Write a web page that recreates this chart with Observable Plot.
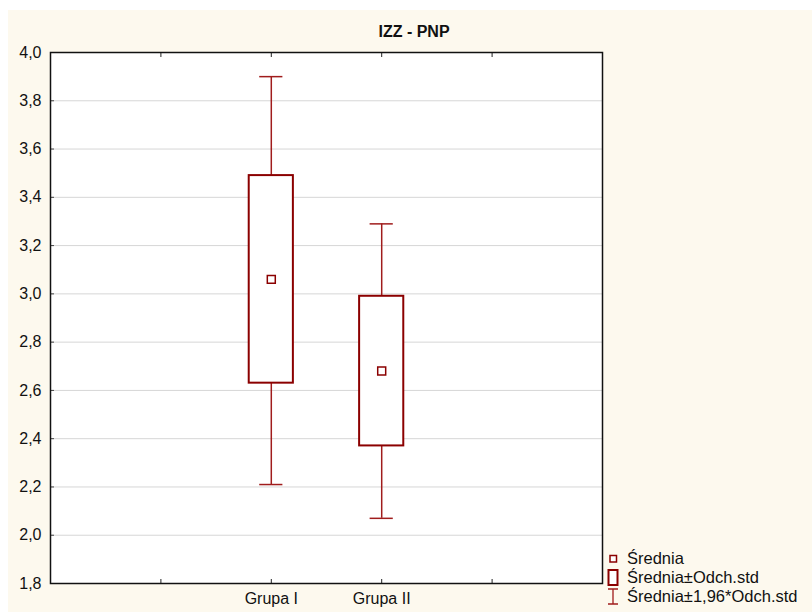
<!DOCTYPE html>
<html>
<head>
<meta charset="utf-8">
<script src="https://cdn.jsdelivr.net/npm/d3@7"></script>
<script src="https://cdn.jsdelivr.net/npm/@observablehq/plot@0.6"></script>
<style>
  body { margin: 0; background: #fff; font-family: "Liberation Sans", Arial, sans-serif; }
  #wrap { position: relative; width: 812px; height: 612px; overflow: hidden; }
  #bg { position: absolute; left: 8px; top: 10px; right: 0; bottom: 0; background: #fdf9ee; }
  #chart { position: absolute; left: 0; top: 0; }
  #title { position: absolute; left: 16px; right: 0; top: 23.5px; line-height: 16px; text-align: center; font-weight: bold; font-size: 16px; color: #111; }
  #legend { position: absolute; left: 607px; top: 549px; font-size: 16.5px; color: #111; }
  #legend div { display: flex; align-items: center; height: 19px; }
  #legend svg { margin-right: 8px; flex: none; }
</style>
</head>
<body>
<div id="wrap">
  <div id="bg"></div>
  <div id="chart"></div>
  <div id="title">IZZ - PNP</div>
  <div id="legend"></div>
</div>
<script>
const groups = ["Grupa I", "Grupa II"];
const groupPos = [2, 3];
const means = [3.06, 2.68];
const boxLow = [2.63, 2.37];
const boxHigh = [3.49, 2.99];
const whiskerLow = [2.21, 2.07];
const whiskerHigh = [3.90, 3.29];
const yTicks = [1.8, 2.0, 2.2, 2.4, 2.6, 2.8, 3.0, 3.2, 3.4, 3.6, 3.8, 4.0];
const xTicks = [1, 2, 3, 4];
const legendLabels = ["Średnia", "Średnia±Odch.std", "Średnia±1,96*Odch.std"];

const data = groups.map((g, i) => ({
  group: g, x: groupPos[i], mean: means[i],
  lo: boxLow[i], hi: boxHigh[i], wlo: whiskerLow[i], whi: whiskerHigh[i]
}));

const boxHalf = 0.2, capHalf = 0.105;
const dark = "#8b0000", whisk = "#a01c1c";
const fmt = d => d.toFixed(1).replace(".", ",");
const xLabel = d => { const i = groupPos.indexOf(d); return i >= 0 ? groups[i] : ""; };

const chart = Plot.plot({
  width: 812, height: 612,
  marginLeft: 50, marginRight: 210, marginTop: 52, marginBottom: 29,
  style: { background: "transparent", fontFamily: "Liberation Sans, Arial, sans-serif", fontSize: "16px", color: "#111" },
  x: { domain: [0, 5] },
  y: { domain: [1.8, 4.0] },
  marks: [
    Plot.frame({ fill: "white", stroke: "none" }),
    Plot.gridY(yTicks.filter(t => t > 1.8 && t < 4.0), { stroke: "#d6d6d6", strokeOpacity: 1, strokeWidth: 1 }),
    Plot.axisY(yTicks, { tickSize: 0, tickPadding: 9, tickFormat: fmt, fontSize: 16, label: null }),
    Plot.axisY(yTicks, { tickSize: -4, tickFormat: () => "", label: null, stroke: "#444" }),
    Plot.axisX(xTicks, { anchor: "bottom", tickSize: 0, tickPadding: 9, tickFormat: xLabel, fontSize: 16, label: null }),
    Plot.axisX(xTicks, { anchor: "bottom", tickSize: -4, tickFormat: () => "", label: null, stroke: "#222" }),
    Plot.axisX(xTicks, { anchor: "top", tickSize: -4, tickFormat: () => "", label: null, stroke: "#222" }),
    Plot.ruleX(data, { x: "x", y1: "hi", y2: "whi", stroke: whisk, strokeWidth: 1.5 }),
    Plot.ruleX(data, { x: "x", y1: "wlo", y2: "lo", stroke: whisk, strokeWidth: 1.5 }),
    Plot.ruleY(data, { y: "whi", x1: d => d.x - capHalf, x2: d => d.x + capHalf, stroke: whisk, strokeWidth: 1.5 }),
    Plot.ruleY(data, { y: "wlo", x1: d => d.x - capHalf, x2: d => d.x + capHalf, stroke: whisk, strokeWidth: 1.5 }),
    Plot.rect(data, { x1: d => d.x - boxHalf, x2: d => d.x + boxHalf, y1: "lo", y2: "hi", fill: "white", stroke: dark, strokeWidth: 2 }),
    Plot.dot(data, { x: "x", y: "mean", symbol: "square", r: 4.5, fill: "white", stroke: dark, strokeWidth: 1.5 }),
    Plot.frame({ stroke: "#111", strokeWidth: 1.5 })
  ]
});
document.getElementById("chart").appendChild(chart);

const icons = [
  `<svg width="12" height="15"><rect x="3" y="4.5" width="6.5" height="6.5" fill="white" stroke="${dark}" stroke-width="1.5"/></svg>`,
  `<svg width="12" height="17"><rect x="1.5" y="1" width="9" height="15" fill="white" stroke="${dark}" stroke-width="2"/></svg>`,
  `<svg width="12" height="17"><path d="M1,1H11M6,1V16M1,16H11" fill="none" stroke="${whisk}" stroke-width="1.3"/></svg>`
];
document.getElementById("legend").innerHTML = legendLabels.map((l, i) => `<div>${icons[i]}<span>${l}</span></div>`).join("");
</script>
</body>
</html>
